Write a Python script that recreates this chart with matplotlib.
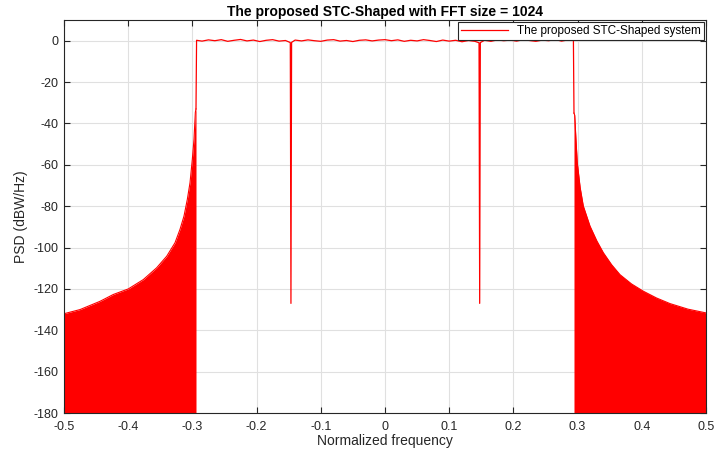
import numpy as np
import matplotlib
matplotlib.use("Agg")
import matplotlib.pyplot as plt

plt.rcParams['font.family'] = ['Liberation Sans', 'DejaVu Sans']
plt.rcParams['axes.unicode_minus'] = False

# out-of-band sidelobe envelope (left and right sides)
left_f = [-0.5, -0.4751, -0.4439, -0.4232, -0.3998, -0.3765, -0.3557, -0.3400,
          -0.3271, -0.3193, -0.3131, -0.3079, -0.3037, -0.3001, -0.2975, -0.2954, -0.2944]
left_db = [-132.0, -130.0, -126.0, -122.7, -120.0, -115.5, -109.8, -104.2,
           -97.7, -91.2, -84.8, -76.7, -68.6, -57.3, -47.6, -34.6, -33.0]
right_f = [0.2944, 0.2955, 0.2975, 0.2995, 0.3040, 0.3089, 0.3193, 0.3300, 0.3401,
           0.3530, 0.3660, 0.3840, 0.4023, 0.4230, 0.4439, 0.4720, 0.5]
right_db = [-35.0, -36.0, -48.0, -58.9, -71.0, -79.9, -89.6, -96.8, -102.5,
            -108.3, -113.1, -117.6, -121.1, -124.4, -127.1, -129.8, -131.6]

# in-band ripple (dB), read roughly along the passband
band_f = [-0.2944, -0.2935, -0.285, -0.275, -0.265, -0.255, -0.245, -0.235, -0.225,
          -0.215, -0.205, -0.195, -0.185, -0.175, -0.165, -0.155, -0.1475, -0.1465,
          -0.1455, -0.14, -0.13, -0.12, -0.11, -0.10, -0.09, -0.08, -0.07, -0.06,
          -0.05, -0.04, -0.03, -0.02, -0.01, 0.0, 0.01, 0.02, 0.03, 0.04, 0.05,
          0.06, 0.07, 0.08, 0.09, 0.10, 0.11, 0.12, 0.13, 0.14, 0.1465, 0.1475,
          0.1485, 0.155, 0.165, 0.175, 0.185, 0.195, 0.205, 0.215, 0.225, 0.235,
          0.245, 0.255, 0.265, 0.275, 0.285, 0.2935, 0.2944]
band_db = [-33.0, 0.2, -0.2, 0.4, 0.0, 0.5, -0.3, 0.2, 0.6,
           -0.1, 0.3, -0.4, 0.2, 0.5, -0.2, 0.1, -0.9, -127.0,
           -0.8, 0.3, -0.1, 0.4, 0.0, -0.3, 0.3, 0.5, -0.2, 0.1,
           -0.4, 0.2, 0.4, -0.1, 0.3, 0.5, 0.0, 0.4, -0.3, 0.2, -0.1,
           0.5, 0.1, -0.4, 0.3, -0.2, 0.2, -0.5, 0.1, -0.3, -1.0, -127.0,
           -0.9, 0.2, -0.3, 0.4, 0.0, 0.3, -0.2, 0.5, 0.1, -0.3,
           0.3, 0.0, 0.6, -0.2, 0.4, 0.3, -35.0]

fig = plt.figure(figsize=(7.16, 4.55), dpi=100)
ax = fig.add_axes([0.0894, 0.0923, 0.8966, 0.8637])

red = '#ff0000'
ax.fill_between(left_f, left_db, -180, color=red, linewidth=0)
ax.fill_between(right_f, right_db, -180, color=red, linewidth=0)
ax.plot(left_f, left_db, color=red, lw=0.8)
ax.plot(right_f, right_db, color=red, lw=0.8)
ax.plot(band_f, band_db, color=red, lw=0.9, label='The proposed STC-Shaped system')

ax.set_xlim(-0.5, 0.5)
ax.set_ylim(-180, 10)
ax.set_xticks(np.arange(-0.5, 0.51, 0.1))
ax.set_xticklabels(['-0.5', '-0.4', '-0.3', '-0.2', '-0.1', '0', '0.1', '0.2', '0.3', '0.4', '0.5'])
ax.set_yticks(np.arange(-180, 1, 20))
ax.set_yticklabels([str(v) for v in range(-180, 1, 20)])
ax.grid(True, color='#e0e0e0', lw=0.8)
ax.set_axisbelow(True)
ax.tick_params(direction='in', top=True, right=True, labelsize=9, colors='#262626', length=4)
ax.tick_params(axis='x', pad=5.5)
ax.tick_params(axis='y', pad=4)
for s in ax.spines.values():
    s.set_color('#262626')
    s.set_linewidth(0.8)

ax.set_title('The proposed STC-Shaped with FFT size = 1024', fontsize=10, fontweight='bold', pad=3)
ax.set_xlabel('Normalized frequency', fontsize=10, color='#262626', labelpad=1)
ax.set_ylabel('PSD (dBW/Hz)', fontsize=10, color='#262626', labelpad=4)

leg = ax.legend(loc='upper right', fontsize=8.5, fancybox=False, framealpha=1,
                edgecolor='#262626', borderaxespad=0.15, handlelength=4, borderpad=0.25)
leg.get_frame().set_linewidth(0.8)

plt.savefig('out.png', dpi=100)
